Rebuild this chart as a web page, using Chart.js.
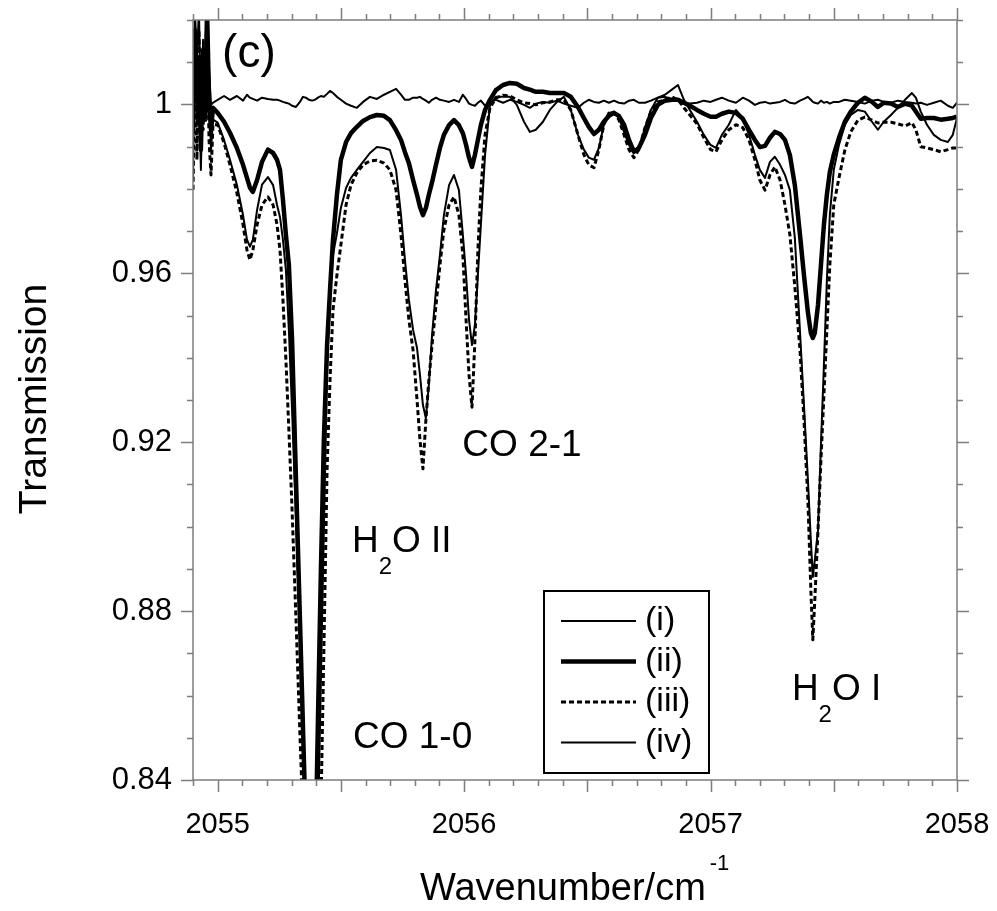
<!DOCTYPE html>
<html>
<head>
<meta charset="utf-8">
<title>Transmission (c)</title>
<script src="https://cdn.jsdelivr.net/npm/chart.js@4.4.1/dist/chart.umd.min.js"></script>
<style>
  html, body { margin: 0; padding: 0; background: #fff; }
  #wrap { width: 997px; height: 911px; }
</style>
</head>
<body>
<div id="wrap"><canvas id="spectrum" width="997" height="911"></canvas></div>
<script>
// wavenumber grid (cm-1), shared by the four traces
const wavenumber = [
  2054.900, 2054.908, 2054.916, 2054.924, 2054.932, 2054.941, 2054.949, 2054.957, 2054.965, 2054.973, 2054.981,
  2055.000, 2055.026, 2055.050, 2055.078, 2055.103, 2055.119, 2055.131, 2055.143, 2055.160, 2055.180,
  2055.204, 2055.225, 2055.241, 2055.253, 2055.265, 2055.277, 2055.289, 2055.302, 2055.318, 2055.334,
  2055.346, 2055.358, 2055.371, 2055.383, 2055.395, 2055.407, 2055.419, 2055.431, 2055.444, 2055.456,
  2055.468, 2055.484, 2055.500, 2055.521, 2055.541, 2055.565, 2055.590, 2055.618, 2055.646, 2055.675,
  2055.699, 2055.724, 2055.744, 2055.760, 2055.776, 2055.793, 2055.809, 2055.821, 2055.833, 2055.845,
  2055.857, 2055.870, 2055.886, 2055.902, 2055.918, 2055.939, 2055.959, 2055.979, 2055.995, 2056.008,
  2056.020, 2056.032, 2056.044, 2056.056, 2056.068, 2056.085, 2056.105, 2056.129, 2056.158, 2056.186,
  2056.214, 2056.243, 2056.267, 2056.291, 2056.320, 2056.348, 2056.377, 2056.405, 2056.433, 2056.462,
  2056.486, 2056.506, 2056.527, 2056.547, 2056.567, 2056.588, 2056.608, 2056.628, 2056.649, 2056.669,
  2056.689, 2056.709, 2056.734, 2056.758, 2056.786, 2056.815, 2056.843, 2056.868, 2056.892, 2056.916,
  2056.945, 2056.973, 2057.000, 2057.022, 2057.046, 2057.074, 2057.103, 2057.131, 2057.156, 2057.180,
  2057.200, 2057.221, 2057.241, 2057.261, 2057.282, 2057.302, 2057.322, 2057.342, 2057.363, 2057.379,
  2057.395, 2057.407, 2057.415, 2057.423, 2057.436, 2057.448, 2057.460, 2057.472, 2057.484, 2057.500,
  2057.521, 2057.545, 2057.569, 2057.598, 2057.626, 2057.655, 2057.679, 2057.703, 2057.732, 2057.760,
  2057.789, 2057.817, 2057.833, 2057.853, 2057.878, 2057.906, 2057.934, 2057.963, 2057.983, 2058.000
];

// (i) reference trace, stays close to 1
const transI = [
  0.9821, 1.0200, 1.0105, 1.0224, 0.9987, 1.0153, 1.0023, 1.0212, 1.0082, 0.9999, 1.0004,
  1.0011, 1.0020, 1.0011, 1.0020, 1.0009, 1.0023, 1.0016, 1.0013, 1.0009, 1.0016,
  1.0013, 1.0011, 1.0011, 1.0009, 1.0006, 1.0004, 1.0002, 0.9997, 0.9994, 1.0006,
  1.0018, 1.0016, 1.0011, 1.0009, 1.0011, 1.0016, 1.0020, 1.0018, 1.0025, 1.0032,
  1.0027, 1.0018, 1.0011, 1.0002, 0.9997, 0.9992, 1.0006, 1.0018, 1.0013, 1.0023,
  1.0030, 1.0037, 1.0023, 1.0011, 1.0011, 1.0016, 1.0016, 1.0018, 1.0013, 1.0009,
  1.0004, 1.0011, 1.0016, 1.0011, 1.0009, 1.0006, 1.0011, 1.0006, 1.0023, 1.0013,
  1.0002, 0.9999, 0.9997, 1.0004, 1.0009, 0.9997, 1.0006, 1.0011, 1.0004, 1.0011,
  1.0006, 0.9999, 0.9992, 1.0002, 1.0006, 1.0004, 1.0009, 1.0002, 0.9997, 0.9992,
  1.0004, 1.0011, 1.0006, 1.0004, 1.0009, 1.0004, 1.0009, 1.0004, 1.0002, 1.0009,
  1.0011, 1.0004, 1.0004, 1.0009, 1.0016, 1.0018, 1.0013, 1.0011, 1.0006, 1.0002,
  1.0004, 1.0009, 1.0006, 1.0011, 1.0016, 1.0009, 1.0004, 1.0016, 1.0009, 0.9999,
  1.0004, 1.0006, 1.0002, 1.0004, 1.0006, 1.0011, 1.0004, 1.0002, 1.0009, 1.0013,
  1.0018, 1.0011, 1.0006, 1.0004, 1.0002, 1.0009, 1.0004, 1.0006, 1.0002, 1.0006,
  1.0006, 1.0011, 1.0009, 1.0006, 1.0002, 1.0009, 1.0011, 1.0006, 1.0004, 1.0009,
  1.0006, 1.0004, 1.0002, 1.0004, 0.9999, 1.0004, 1.0009, 0.9997, 0.9992, 1.0004
];

// (ii)
const transII = [
  0.9940, 1.0176, 1.0035, 1.0105, 0.9893, 1.0129, 0.9964, 1.0224, 1.0011, 0.9940, 0.9992,
  0.9980, 0.9959, 0.9933, 0.9897, 0.9857, 0.9826, 0.9803, 0.9793, 0.9821, 0.9864,
  0.9893, 0.9885, 0.9869, 0.9845, 0.9774, 0.9691, 0.9620, 0.9442, 0.9110, 0.8779,
  0.8530, 0.8282, 0.8033, 0.7903, 0.8164, 0.8542, 0.8897, 0.9206, 0.9430, 0.9561,
  0.9679, 0.9786, 0.9869, 0.9911, 0.9932, 0.9947, 0.9961, 0.9970, 0.9975, 0.9973,
  0.9963, 0.9939, 0.9916, 0.9887, 0.9861, 0.9821, 0.9786, 0.9757, 0.9738, 0.9755,
  0.9786, 0.9816, 0.9857, 0.9897, 0.9928, 0.9951, 0.9963, 0.9951, 0.9932, 0.9904,
  0.9874, 0.9852, 0.9881, 0.9916, 0.9951, 0.9987, 1.0011, 1.0034, 1.0046, 1.0051,
  1.0049, 1.0039, 1.0035, 1.0030, 1.0030, 1.0027, 1.0027, 1.0027, 1.0018, 0.9994,
  0.9968, 0.9947, 0.9930, 0.9940, 0.9959, 0.9973, 0.9980, 0.9973, 0.9952, 0.9916,
  0.9888, 0.9897, 0.9928, 0.9968, 0.9999, 1.0009, 1.0011, 1.0011, 1.0004, 0.9997,
  0.9987, 0.9978, 0.9971, 0.9971, 0.9978, 0.9983, 0.9980, 0.9966, 0.9940, 0.9916,
  0.9899, 0.9902, 0.9921, 0.9935, 0.9930, 0.9916, 0.9880, 0.9809, 0.9691, 0.9596,
  0.9508, 0.9459, 0.9447, 0.9459, 0.9525, 0.9620, 0.9715, 0.9786, 0.9840, 0.9881,
  0.9921, 0.9959, 0.9983, 1.0004, 1.0016, 1.0006, 0.9994, 1.0004, 1.0002, 0.9994,
  1.0002, 0.9997, 0.9983, 0.9966, 0.9968, 0.9968, 0.9964, 0.9966, 0.9968, 0.9971
];

// (iii)
const transIII = [
  0.9798, 1.0105, 0.9869, 1.0176, 0.9964, 0.9940, 1.0105, 1.0200, 0.9916, 0.9833, 0.9952,
  0.9952, 0.9909, 0.9857, 0.9791, 0.9715, 0.9655, 0.9632, 0.9655, 0.9715, 0.9762,
  0.9781, 0.9762, 0.9715, 0.9655, 0.9537, 0.9395, 0.9229, 0.9040, 0.8779, 0.8507,
  0.8317, 0.8118, 0.7938, 0.7832, 0.7879, 0.8068, 0.8329, 0.8708, 0.9134, 0.9348,
  0.9513, 0.9596, 0.9667, 0.9762, 0.9809, 0.9838, 0.9857, 0.9866, 0.9868, 0.9861,
  0.9845, 0.9797, 0.9691, 0.9584, 0.9490, 0.9418, 0.9300, 0.9205, 0.9137, 0.9253,
  0.9347, 0.9430, 0.9525, 0.9620, 0.9703, 0.9762, 0.9781, 0.9738, 0.9643, 0.9490,
  0.9359, 0.9283, 0.9442, 0.9655, 0.9797, 0.9928, 0.9992, 1.0015, 1.0022, 1.0020,
  1.0011, 1.0004, 1.0002, 0.9999, 1.0004, 1.0006, 1.0011, 1.0011, 0.9987, 0.9928,
  0.9881, 0.9857, 0.9850, 0.9893, 0.9952, 0.9980, 0.9980, 0.9964, 0.9928, 0.9893,
  0.9874, 0.9893, 0.9945, 0.9983, 1.0006, 1.0011, 1.0018, 1.0011, 0.9992, 0.9975,
  0.9954, 0.9921, 0.9893, 0.9888, 0.9916, 0.9940, 0.9952, 0.9945, 0.9916, 0.9869,
  0.9821, 0.9797, 0.9833, 0.9852, 0.9821, 0.9762, 0.9691, 0.9568, 0.9418, 0.9253,
  0.9063, 0.8850, 0.8732, 0.8826, 0.8992, 0.9158, 0.9312, 0.9466, 0.9620, 0.9762,
  0.9826, 0.9892, 0.9935, 0.9963, 0.9970, 0.9963, 0.9956, 0.9958, 0.9958, 0.9954,
  0.9949, 0.9957, 0.9940, 0.9900, 0.9897, 0.9893, 0.9888, 0.9893, 0.9897, 0.9897
];

// (iv)
const transIV = [
  0.9893, 1.0247, 0.9964, 1.0058, 0.9845, 1.0082, 0.9987, 1.0176, 1.0035, 0.9893, 0.9964,
  0.9957, 0.9916, 0.9869, 0.9810, 0.9738, 0.9680, 0.9663, 0.9680, 0.9750, 0.9810,
  0.9828, 0.9809, 0.9762, 0.9733, 0.9679, 0.9608, 0.9466, 0.9276, 0.9016, 0.8732,
  0.8495, 0.8282, 0.8092, 0.7974, 0.8045, 0.8282, 0.8637, 0.8992, 0.9371, 0.9561,
  0.9643, 0.9695, 0.9755, 0.9802, 0.9826, 0.9845, 0.9864, 0.9885, 0.9899, 0.9897,
  0.9892, 0.9845, 0.9738, 0.9632, 0.9537, 0.9466, 0.9423, 0.9359, 0.9288, 0.9257,
  0.9336, 0.9454, 0.9561, 0.9643, 0.9738, 0.9809, 0.9833, 0.9797, 0.9691, 0.9596,
  0.9490, 0.9430, 0.9478, 0.9596, 0.9714, 0.9880, 0.9999, 1.0018, 1.0018, 1.0018,
  0.9999, 0.9959, 0.9935, 0.9940, 0.9959, 0.9987, 1.0006, 1.0018, 0.9987, 0.9928,
  0.9893, 0.9874, 0.9869, 0.9897, 0.9952, 0.9980, 0.9983, 0.9968, 0.9935, 0.9904,
  0.9885, 0.9897, 0.9945, 0.9987, 1.0016, 1.0023, 1.0035, 1.0046, 1.0011, 0.9987,
  0.9959, 0.9928, 0.9904, 0.9897, 0.9928, 0.9952, 0.9987, 0.9968, 0.9928, 0.9881,
  0.9845, 0.9826, 0.9864, 0.9876, 0.9857, 0.9833, 0.9797, 0.9684, 0.9461, 0.9288,
  0.9111, 0.8968, 0.8881, 0.8921, 0.8992, 0.9194, 0.9383, 0.9584, 0.9738, 0.9845,
  0.9904, 0.9952, 0.9975, 0.9987, 0.9983, 0.9959, 0.9940, 0.9959, 0.9975, 0.9992,
  1.0011, 1.0027, 1.0016, 0.9983, 0.9952, 0.9928, 0.9916, 0.9911, 0.9928, 0.9968
];

const seriesNames = ["(i)", "(ii)", "(iii)", "(iv)"];
const xLabels = [2055, 2056, 2057, 2058];
const yLabels = [0.84, 0.88, 0.92, 0.96, 1];

// band assignments, placed in data coordinates; second item of each part = subscript
const bandLabels = [
  { parts: [["CO 2-1", false]], x: 2055.993, y: 0.9167 },
  { parts: [["H", false], ["2", true], ["O II", false]], x: 2055.545, y: 0.8940 },
  { parts: [["CO 1-0", false]], x: 2055.549, y: 0.8476 },
  { parts: [["H", false], ["2", true], ["O I", false]], x: 2057.330, y: 0.8589 }
];

const FONT = '"Liberation Sans", Arial, Helvetica, sans-serif';
const AXIS_GREY = '#7d7d7d';

const lineStyles = [
  { borderWidth: 2,   borderDash: [] },
  { borderWidth: 4.5, borderDash: [] },
  { borderWidth: 3,   borderDash: [5, 3] },
  { borderWidth: 2,   borderDash: [] }
];

const traces = [transI, transII, transIII, transIV];

const datasets = traces.map((vals, k) => ({
  label: seriesNames[k],
  data: wavenumber.map((w, i) => ({ x: w, y: vals[i] })),
  borderColor: '#000',
  borderWidth: lineStyles[k].borderWidth,
  borderDash: lineStyles[k].borderDash,
  borderJoinStyle: 'round',
  pointRadius: 0,
  tension: 0,
  fill: false
}));

function drawParts(ctx, parts, x, y, size) {
  let cx = x;
  for (const [txt, sub] of parts) {
    const fs = sub ? Math.round(size * 0.65) : size;
    ctx.font = fs + 'px ' + FONT;
    ctx.fillText(txt, cx, sub ? y + size * 0.6 : y);
    cx += ctx.measureText(txt).width;
  }
}

// frame, minor/major ticks on all four sides, titles, band labels, legend
const decorations = {
  id: 'decorations',
  beforeDraw(chart) {
    const ctx = chart.ctx;
    ctx.save();
    ctx.fillStyle = '#fff';
    ctx.fillRect(0, 0, chart.width, chart.height);
    ctx.restore();
  },
  afterDraw(chart) {
    const { ctx, chartArea: a } = chart;
    const xs = chart.scales.x, ys = chart.scales.y;
    ctx.save();

    // frame and ticks
    ctx.strokeStyle = AXIS_GREY;
    ctx.lineWidth = 1.5;
    ctx.strokeRect(a.left, a.top, a.right - a.left, a.bottom - a.top);
    ctx.beginPath();
    for (let t = Math.round(xs.min * 10); t <= Math.round(xs.max * 10); t++) {
      const px = Math.round(xs.getPixelForValue(t / 10)) + 0.5;
      const len = t % 5 === 0 ? 12 : 6;
      ctx.moveTo(px, a.bottom); ctx.lineTo(px, a.bottom + len);
      ctx.moveTo(px, a.top);    ctx.lineTo(px, a.top - len);
    }
    for (let t = Math.round(ys.min * 100); t <= Math.round(ys.max * 100); t++) {
      const py = Math.round(ys.getPixelForValue(t / 100)) + 0.5;
      const len = t % 4 === 0 ? 12 : 6;
      ctx.moveTo(a.left, py);  ctx.lineTo(a.left - len, py);
      ctx.moveTo(a.right, py); ctx.lineTo(a.right + len, py);
    }
    ctx.stroke();

    ctx.fillStyle = '#000';

    // axis titles
    ctx.font = '39px ' + FONT;
    ctx.textAlign = 'center';
    ctx.textBaseline = 'alphabetic';
    ctx.save();
    ctx.translate(46, 399);
    ctx.rotate(-Math.PI / 2);
    ctx.fillText('Transmission', 0, 0);
    ctx.restore();

    ctx.textAlign = 'left';
    ctx.font = '38px ' + FONT;
    const main = 'Wavenumber/cm';
    const mw = ctx.measureText(main).width;
    const tx = 420;
    ctx.fillText(main, tx, 900);
    ctx.font = '22px ' + FONT;
    ctx.fillText('-1', tx + mw + 4, 870);

    // panel tag
    ctx.font = '46px ' + FONT;
    ctx.fillText('(c)', xs.getPixelForValue(2055.018), ys.getPixelForValue(1.0088));

    // band labels
    for (const b of bandLabels) {
      drawParts(ctx, b.parts, xs.getPixelForValue(b.x), ys.getPixelForValue(b.y), 37);
    }

    // legend box
    const box = { left: a.left + 351, top: a.top + 571, w: 165, h: 182 };
    ctx.strokeStyle = '#000';
    ctx.lineWidth = 2;
    ctx.setLineDash([]);
    ctx.strokeRect(box.left, box.top, box.w, box.h);
    ctx.font = '34px ' + FONT;
    ctx.textBaseline = 'middle';
    chart.data.datasets.forEach((ds, k) => {
      const yRow = box.top + 30 + k * 40.5;
      ctx.beginPath();
      ctx.lineWidth = ds.borderWidth;
      ctx.setLineDash(ds.borderDash);
      ctx.moveTo(box.left + 17, yRow);
      ctx.lineTo(box.left + 92, yRow);
      ctx.stroke();
      ctx.setLineDash([]);
      ctx.fillText(ds.label, box.left + 101, yRow);
    });

    ctx.restore();
  }
};

Chart.defaults.color = '#000';
Chart.defaults.font.family = FONT;

new Chart(document.getElementById('spectrum'), {
  type: 'line',
  data: { datasets },
  options: {
    responsive: false,
    animation: false,
    events: [],
    layout: { padding: { left: 0, top: 20, right: 40, bottom: 0 } },
    plugins: { legend: { display: false }, tooltip: { enabled: false } },
    scales: {
      x: {
        type: 'linear',
        min: 2054.9,
        max: 2058,
        grid: { display: false, drawTicks: false },
        border: { display: false },
        afterBuildTicks: s => { s.ticks = xLabels.map(v => ({ value: v })); },
        afterFit: s => { s.height = 131; s.paddingLeft = 0; s.paddingRight = 0; s.paddingTop = 0; s.paddingBottom = 0; },
        ticks: {
          padding: 28,
          maxRotation: 0,
          autoSkip: false,
          font: { size: 29 },
          callback: v => String(v)
        }
      },
      y: {
        type: 'linear',
        min: 0.84,
        max: 1.02,
        grid: { display: false, drawTicks: false },
        border: { display: false },
        afterBuildTicks: s => { s.ticks = yLabels.map(v => ({ value: v })); },
        afterFit: s => { s.width = 193; s.paddingLeft = 0; s.paddingRight = 0; s.paddingTop = 0; s.paddingBottom = 0; },
        ticks: {
          padding: 21,
          autoSkip: false,
          font: { size: 31 },
          callback: v => (v === 1 ? '1' : v.toFixed(2))
        }
      }
    }
  },
  plugins: [decorations]
});
</script>
</body>
</html>
